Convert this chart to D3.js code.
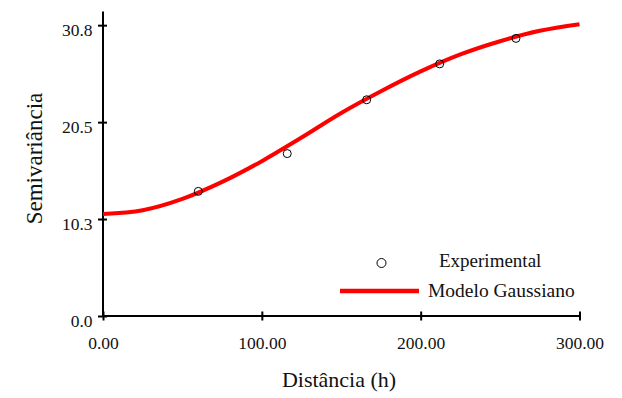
<!DOCTYPE html>
<html>
<head>
<meta charset="utf-8">
<script src="https://cdn.jsdelivr.net/npm/d3@7"></script>
<style>
  body { margin: 0; background: #fff; }
  text { font-family: "Liberation Serif", "Times New Roman", serif; }
</style>
</head>
<body>
<div id="chart"></div>
<script>
// Semivariogram: experimental points + fitted Gaussian model
const expH     = [60, 116, 166, 212, 260];
const expGamma = [13.2, 17.2, 22.9, 26.7, 29.4];

const modelH     = [0, 25, 50, 75, 100, 125, 150, 175, 200, 225, 250, 275, 300];
const modelGamma = [10.8, 11.2, 12.4, 14.2, 16.4, 18.9, 21.5, 23.8, 25.9, 27.7, 29.1, 30.2, 30.9];

const xTicks = [0, 100, 200, 300];
const yTicks = [0, 10.27, 20.53, 30.8];

const legendLabels = ["Experimental", "Modelo Gaussiano"];

function draw() {
  const width = 622, height = 398;
  const RED = "#ff0000";

  const svg = d3.select("#chart")
    .append("svg")
    .attr("width", width)
    .attr("height", height);

  const x = d3.scaleLinear().domain([0, 300]).range([103, 579.5]);
  const y = d3.scaleLinear().domain([0, 32.3]).range([316, 11]);

  // X axis
  const xAxis = svg.append("g")
    .attr("transform", `translate(0, ${y(0)})`)
    .call(d3.axisBottom(x)
      .tickValues(xTicks)
      .tickFormat(d3.format(".2f"))
      .tickSizeInner(9)
      .tickSizeOuter(0));

  xAxis.select(".domain").attr("stroke-width", 2).attr("d", `M${x(0) - 1},0H${x(300) + 1}`);
  xAxis.selectAll(".tick line").attr("y1", -4.5).attr("y2", 4.5).attr("stroke-width", 2);
  xAxis.selectAll(".tick text")
    .attr("y", 33).attr("dy", 0)
    .style("font-size", "17.5px")
    .style("fill", "#111");

  // Y axis
  const yAxis = svg.append("g")
    .attr("transform", `translate(${x(0) - 0.5}, 0)`)
    .call(d3.axisLeft(y)
      .tickValues(yTicks)
      .tickFormat(d3.format(".1f"))
      .tickSizeInner(9)
      .tickSizeOuter(0));

  yAxis.select(".domain").attr("stroke-width", 2);
  yAxis.selectAll(".tick line").attr("x1", -4.5).attr("x2", 4.5).attr("stroke-width", 2);
  yAxis.selectAll(".tick text")
    .attr("x", -10).attr("dy", 0).attr("y", 10.5)
    .style("font-size", "17.5px")
    .style("fill", "#111");

  // Axis titles
  svg.append("text")
    .attr("x", 339).attr("y", 387)
    .attr("text-anchor", "middle")
    .style("font-size", "22px")
    .style("fill", "#111")
    .text("Distância (h)");

  svg.append("text")
    .attr("transform", "translate(42, 158.5) rotate(-90)")
    .attr("text-anchor", "middle")
    .style("font-size", "23px")
    .style("fill", "#111")
    .text("Semivariância");

  // Gaussian model curve
  const line = d3.line()
    .x((d, i) => x(modelH[i]))
    .y(d => y(d))
    .curve(d3.curveMonotoneX);

  svg.append("path")
    .datum(modelGamma)
    .attr("fill", "none")
    .attr("stroke", RED)
    .attr("stroke-width", 4)
    .attr("d", line);

  // Experimental points
  svg.selectAll(".pt")
    .data(expH)
    .join("circle")
    .attr("class", "pt")
    .attr("cx", d => x(d))
    .attr("cy", (d, i) => y(expGamma[i]))
    .attr("r", 4)
    .attr("fill", "none")
    .attr("stroke", "#000")
    .attr("stroke-width", 1);

  // Legend
  const lg = svg.append("g");
  lg.append("circle")
    .attr("cx", 381.5).attr("cy", 263).attr("r", 4.5)
    .attr("fill", "none").attr("stroke", "#000").attr("stroke-width", 1);
  lg.append("text")
    .attr("x", 439).attr("y", 267)
    .style("font-size", "19px").style("fill", "#111")
    .text(legendLabels[0]);
  lg.append("line")
    .attr("x1", 340).attr("x2", 419).attr("y1", 291).attr("y2", 291)
    .attr("stroke", RED).attr("stroke-width", 4.5);
  lg.append("text")
    .attr("x", 428).attr("y", 297)
    .style("font-size", "19.5px").style("fill", "#111")
    .text(legendLabels[1]);
}

draw();
</script>
</body>
</html>
